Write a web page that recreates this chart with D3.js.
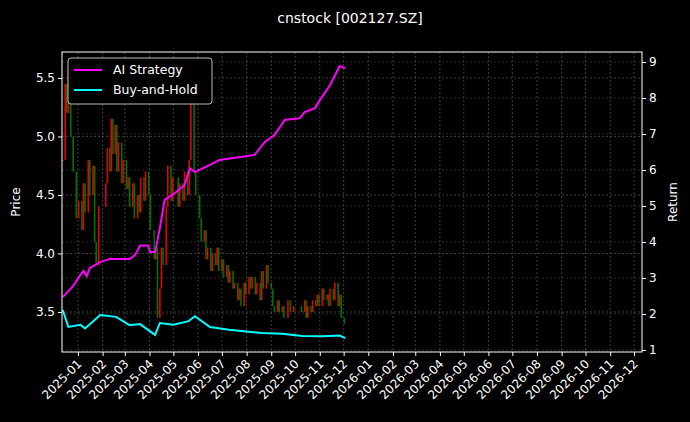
<!DOCTYPE html>
<html><head><meta charset="utf-8">
<script src="https://cdn.jsdelivr.net/npm/d3@7"></script>
<style>body{margin:0;background:#000}svg{display:block}text{font-family:"DejaVu Sans",sans-serif;fill:#fff}</style>
</head><body><svg id="c" width="690" height="422"></svg>
<script>
const title = "cnstock [002127.SZ]";
const priceDates = ["2024-12-13","2024-12-16","2024-12-18","2024-12-20","2024-12-23","2024-12-26","2024-12-30","2025-01-02","2025-01-06","2025-01-08","2025-01-10","2025-01-14","2025-01-16","2025-01-20","2025-01-22","2025-01-24","2025-01-27","2025-02-05","2025-02-07","2025-02-10","2025-02-12","2025-02-14","2025-02-17","2025-02-19","2025-02-21","2025-02-25","2025-02-27","2025-03-03","2025-03-05","2025-03-07","2025-03-11","2025-03-13","2025-03-17","2025-03-19","2025-03-21","2025-03-25","2025-03-27","2025-03-31","2025-04-02","2025-04-07","2025-04-09","2025-04-11","2025-04-14","2025-04-16","2025-04-18","2025-04-22","2025-04-24","2025-04-28","2025-04-30","2025-05-07","2025-05-09","2025-05-13","2025-05-15","2025-05-19","2025-05-21","2025-05-23","2025-05-27","2025-05-29","2025-06-03","2025-06-05","2025-06-09","2025-06-11","2025-06-13","2025-06-17","2025-06-19","2025-06-23","2025-06-25","2025-06-27","2025-07-01","2025-07-03","2025-07-07","2025-07-09","2025-07-11","2025-07-15","2025-07-17","2025-07-21","2025-07-23","2025-07-25","2025-07-29","2025-07-31","2025-08-04","2025-08-06","2025-08-08","2025-08-12","2025-08-14","2025-08-18","2025-08-20","2025-08-22","2025-08-26","2025-08-28","2025-09-01","2025-09-03","2025-09-05","2025-09-09","2025-09-11","2025-09-15","2025-09-17","2025-09-22","2025-09-25","2025-09-29","2025-10-09","2025-10-13","2025-10-15","2025-10-17","2025-10-21","2025-10-23","2025-10-27","2025-10-29","2025-10-31","2025-11-04","2025-11-06","2025-11-10","2025-11-12","2025-11-14","2025-11-18","2025-11-20","2025-11-24","2025-11-26","2025-11-28","2025-12-02"];
const closes = [4.80,5.45,5.20,5.60,5.00,4.70,4.30,4.45,4.20,4.60,4.35,4.80,4.50,4.75,4.10,3.90,4.40,4.60,4.90,4.70,5.15,4.85,5.10,4.70,4.95,4.60,4.80,4.55,4.65,4.40,4.60,4.30,4.50,4.35,4.65,4.45,4.70,4.50,4.20,3.95,4.05,3.45,3.70,4.05,3.90,4.40,4.75,4.45,4.65,4.40,4.60,4.45,4.70,4.50,4.80,5.35,4.70,4.50,4.30,4.10,4.20,3.95,4.05,3.85,4.00,3.90,4.05,3.85,3.95,3.80,3.90,3.75,3.85,3.70,3.75,3.60,3.70,3.55,3.75,3.65,3.80,3.70,3.80,3.65,3.75,3.60,3.85,3.70,3.90,3.75,3.70,3.55,3.50,3.60,3.50,3.55,3.45,3.60,3.50,3.55,3.50,3.60,3.45,3.55,3.50,3.60,3.55,3.65,3.55,3.70,3.60,3.65,3.55,3.70,3.60,3.75,3.55,3.65,3.45,3.40];
const aiDates = ["2024-12-13","2024-12-25","2025-01-04","2025-01-08","2025-01-12","2025-01-16","2025-01-29","2025-02-10","2025-03-07","2025-03-14","2025-03-20","2025-03-30","2025-04-02","2025-04-08","2025-04-14","2025-04-20","2025-05-03","2025-05-15","2025-05-22","2025-05-28","2025-06-16","2025-06-28","2025-07-24","2025-08-11","2025-08-24","2025-09-05","2025-09-18","2025-10-07","2025-10-13","2025-10-26","2025-11-01","2025-11-14","2025-11-26","2025-12-03"];
const aiReturn = [2.47,2.75,3.08,3.20,3.05,3.28,3.44,3.53,3.53,3.64,3.90,3.90,3.72,3.72,4.39,5.17,5.36,5.58,6.05,5.94,6.14,6.28,6.36,6.42,6.78,6.97,7.39,7.44,7.61,7.72,7.94,8.36,8.89,8.83];
const bhDates = ["2024-12-13","2024-12-20","2025-01-04","2025-01-10","2025-01-29","2025-02-18","2025-03-07","2025-03-20","2025-04-08","2025-04-14","2025-05-01","2025-05-20","2025-05-28","2025-06-16","2025-07-10","2025-08-20","2025-09-15","2025-10-10","2025-11-05","2025-11-26","2025-12-03"];
const bhReturn = [2.11,1.64,1.70,1.60,1.97,1.92,1.69,1.72,1.42,1.75,1.70,1.80,1.94,1.64,1.56,1.47,1.45,1.39,1.38,1.40,1.33];
const monthTicks = d3.timeMonths(new Date(2025,0,1), new Date(2026,11,2));
const priceTicks = [3.5,4.0,4.5,5.0,5.5];
const returnTicks = [1,2,3,4,5,6,7,8,9];

const svg = d3.select("#c");
const L=62,R=642,T=52,B=352;
const pd = d3.timeParse("%Y-%m-%d");
const x = d3.scaleTime().domain([new Date(2024,11,12), new Date(2026,11,11)]).range([L,R]);
const yP = d3.scaleLinear().domain([3.158,5.722]).range([B,T]);
const yR = d3.scaleLinear().domain([0.944,9.278]).range([B,T]);

svg.append("text").attr("x",350).attr("y",23).attr("text-anchor","middle").style("font-size","14px").text(title);

const g = svg.append("g");
g.selectAll(".gx").data(monthTicks).join("line").attr("x1",d=>x(d)).attr("x2",d=>x(d)).attr("y1",T).attr("y2",B)
 .attr("stroke","#666").attr("stroke-width",0.6).attr("stroke-dasharray","2,2");
g.selectAll(".gy").data(priceTicks).join("line").attr("x1",L).attr("x2",R).attr("y1",d=>yP(d)).attr("y2",d=>yP(d))
 .attr("stroke","#666").attr("stroke-width",0.6).attr("stroke-dasharray","2,2");
g.selectAll(".gr").data(returnTicks).join("line").attr("x1",L).attr("x2",R).attr("y1",d=>yR(d)).attr("y2",d=>yR(d))
 .attr("stroke","#444").attr("stroke-width",0.6).attr("stroke-dasharray","2,2");

const candles = closes.map((c,i)=>({d:pd(priceDates[i]), o: i? closes[i-1]:c, c}));
g.selectAll(".cd").data(candles).join("rect")
 .attr("x",d=>x(d.d)-0.8).attr("width",1.6)
 .attr("y",d=>yP(Math.max(d.o,d.c))).attr("height",d=>Math.max(1,Math.abs(yP(d.o)-yP(d.c))))
 .attr("fill",d=>d.c>=d.o?"#ff0000":"#008000").attr("opacity",0.9);

const line = d3.line().x(d=>x(d[0])).y(d=>yR(d[1]));
g.append("path").datum(aiDates.map((d,i)=>[pd(d),aiReturn[i]])).attr("d",line).attr("fill","none").attr("stroke","#ff00ff").attr("stroke-width",2);
g.append("path").datum(bhDates.map((d,i)=>[pd(d),bhReturn[i]])).attr("d",line).attr("fill","none").attr("stroke","#00ffff").attr("stroke-width",2);

svg.append("rect").attr("x",L).attr("y",T).attr("width",R-L).attr("height",B-T).attr("fill","none").attr("stroke","#fff").attr("stroke-width",1);

const ax = svg.append("g").attr("transform",`translate(0,${B})`).call(d3.axisBottom(x).tickValues(monthTicks).tickFormat(d3.timeFormat("%Y-%m")).tickSize(4));
ax.selectAll("text").attr("text-anchor","end").attr("transform","rotate(-45)").attr("dx","-0.5em").attr("dy","0.4em");
const ay = svg.append("g").attr("transform",`translate(${L},0)`).call(d3.axisLeft(yP).tickValues(priceTicks).tickFormat(d3.format(".1f")).tickSize(4));
const ar = svg.append("g").attr("transform",`translate(${R},0)`).call(d3.axisRight(yR).tickValues(returnTicks).tickSize(4));
[ax,ay,ar].forEach(a=>{a.select(".domain").remove();a.selectAll("line").attr("stroke","#fff");a.selectAll("text").style("font-size","12px").attr("fill","#fff");});

svg.append("text").attr("transform",`translate(20,${(T+B)/2}) rotate(-90)`).attr("text-anchor","middle").style("font-size","12px").text("Price");
svg.append("text").attr("transform",`translate(677,${(T+B)/2}) rotate(-90)`).attr("text-anchor","middle").style("font-size","12px").text("Return");

const lg = svg.append("g").attr("transform","translate(68,58)");
lg.append("rect").attr("width",144).attr("height",46).attr("rx",3).attr("fill","#000").attr("stroke","#ccc").attr("opacity",0.9);
[["AI Strategy","#ff00ff"],["Buy-and-Hold","#00ffff"]].forEach((e,i)=>{
  lg.append("line").attr("x1",6).attr("x2",34).attr("y1",12+i*20).attr("y2",12+i*20).attr("stroke",e[1]).attr("stroke-width",2);
  lg.append("text").attr("x",45).attr("y",16+i*20).style("font-size","12.5px").text(e[0]);
});
</script></body></html>
